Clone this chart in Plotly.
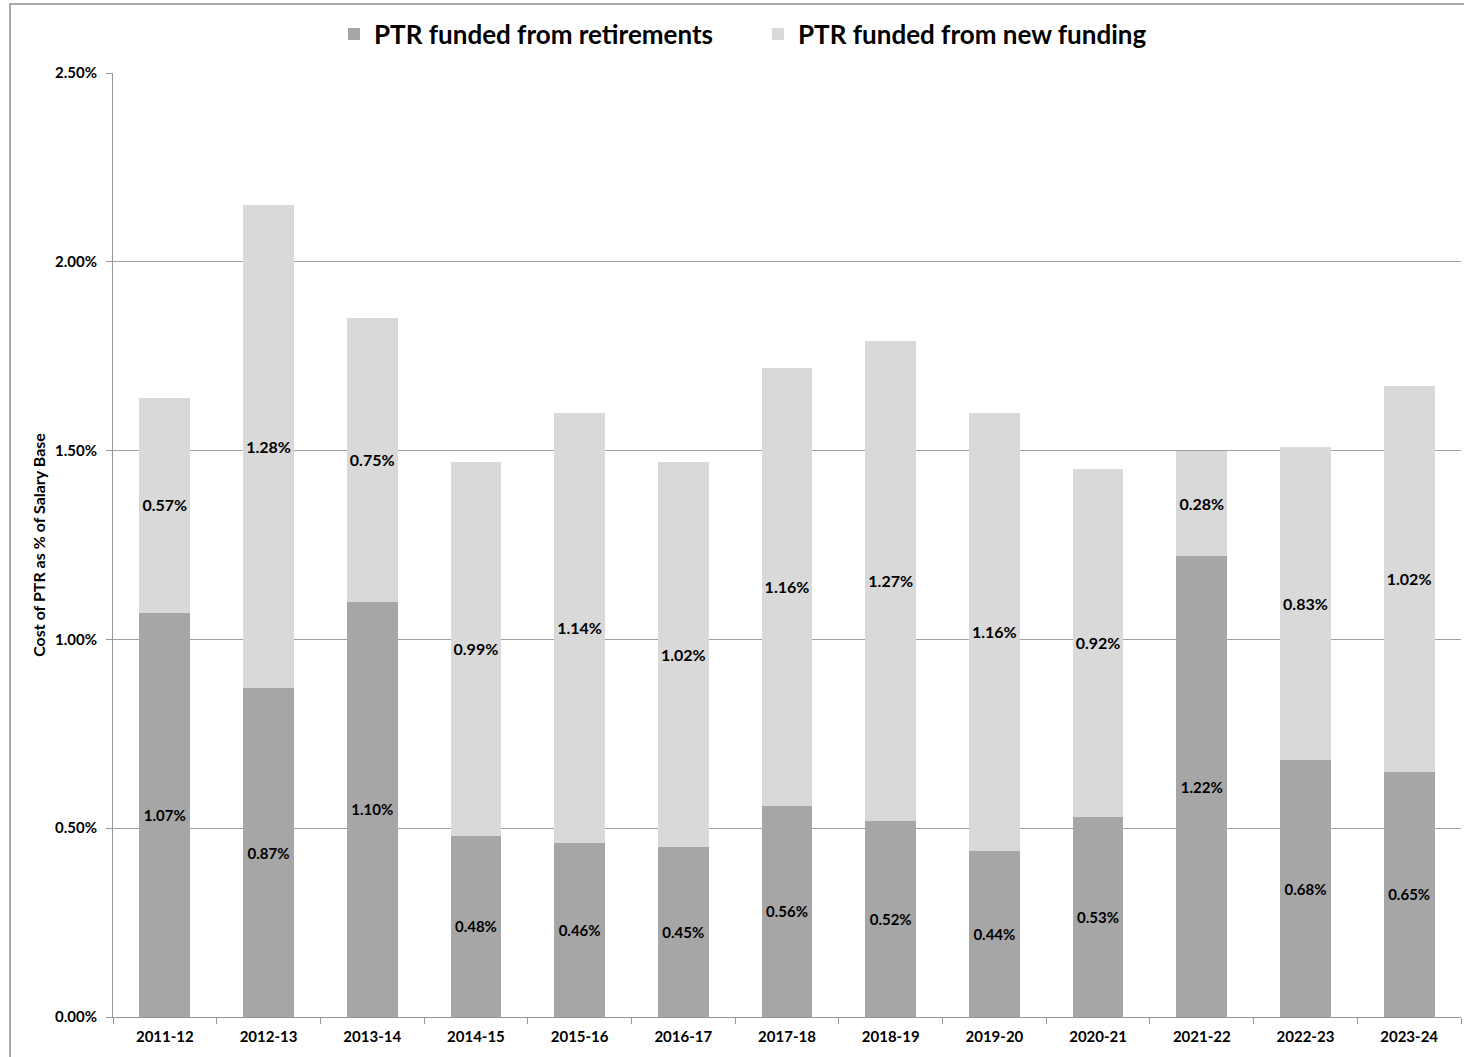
import plotly.graph_objects as go

years = ["2011-12", "2012-13", "2013-14", "2014-15", "2015-16", "2016-17", "2017-18",
         "2018-19", "2019-20", "2020-21", "2021-22", "2022-23", "2023-24"]
retirements = [1.07, 0.87, 1.10, 0.48, 0.46, 0.45, 0.56, 0.52, 0.44, 0.53, 1.22, 0.68, 0.65]
new_funding = [0.57, 1.28, 0.75, 0.99, 1.14, 1.02, 1.16, 1.27, 1.16, 0.92, 0.28, 0.83, 1.02]
y_ticks = [0.0, 0.5, 1.0, 1.5, 2.0, 2.5]

FONT = "Lato"
W, H = 1464, 1057
L, R, T, B = 113, 3, 73, 40
pw, ph = W - L - R, H - T - B

def px_x(p):
    return (p - L) / pw

def px_y(p):
    return (H - B - p) / ph

fig = go.Figure()
fig.add_trace(go.Bar(
    x=years, y=retirements, name="PTR funded from retirements",
    marker=dict(color="#a6a6a6", line=dict(width=0)),
    text=[f"{v:.2f}%" for v in retirements], textposition="inside",
    insidetextanchor="middle", textangle=0,
    textfont=dict(family=FONT, size=15, color="black", weight="bold"),
    hoverinfo="skip",
))
fig.add_trace(go.Bar(
    x=years, y=new_funding, name="PTR funded from new funding",
    marker=dict(color="#d9d9d9", line=dict(width=0)),
    text=[f"{v:.2f}%" for v in new_funding], textposition="inside",
    insidetextanchor="middle", textangle=0,
    textfont=dict(family=FONT, size=17, color="black", weight="bold"),
    hoverinfo="skip",
))

fig.update_layout(
    width=W, height=H, barmode="stack", bargap=0.51,
    margin=dict(l=L, r=R, t=T, b=B, pad=0),
    paper_bgcolor="white", plot_bgcolor="white",
    font=dict(family=FONT, color="black"),
    legend=dict(orientation="h", x=px_x(758), xanchor="center", y=px_y(34), yanchor="middle",
                font=dict(family=FONT, size=26, color="black", weight="bold"),
                traceorder="normal", entrywidth=379, entrywidthmode="pixels",
                bgcolor="rgba(0,0,0,0)"),
    xaxis=dict(type="category", showgrid=False, showline=True, linecolor="#969696", linewidth=1,
               ticks="outside", tickson="boundaries", ticklen=6, tickcolor="#969696",
               ticklabelstandoff=6,
               tickfont=dict(family=FONT, size=15, color="black", weight="bold")),
    yaxis=dict(range=[0, 2.5], tickvals=y_ticks,
               ticktext=[f"{v:.2f}%" for v in y_ticks],
               showgrid=True, gridcolor="#a0a0a0", gridwidth=1,
               showline=True, linecolor="#969696", linewidth=1,
               ticks="outside", ticklen=6, tickcolor="#969696", zeroline=False,
               ticklabelstandoff=6,
               tickfont=dict(family=FONT, size=15, color="black", weight="bold"),
               title=dict(text="Cost of PTR as % of Salary Base", standoff=5,
                          font=dict(family=FONT, size=16, color="black", weight="bold"))),
    shapes=[dict(type="rect", xref="paper", yref="paper",
                 x0=px_x(10), x1=px_x(1475), y0=px_y(1070), y1=px_y(4),
                 line=dict(color="#8c8c8c", width=1.5), fillcolor="rgba(0,0,0,0)",
                 layer="below")],
)

fig.write_html("out.html")
